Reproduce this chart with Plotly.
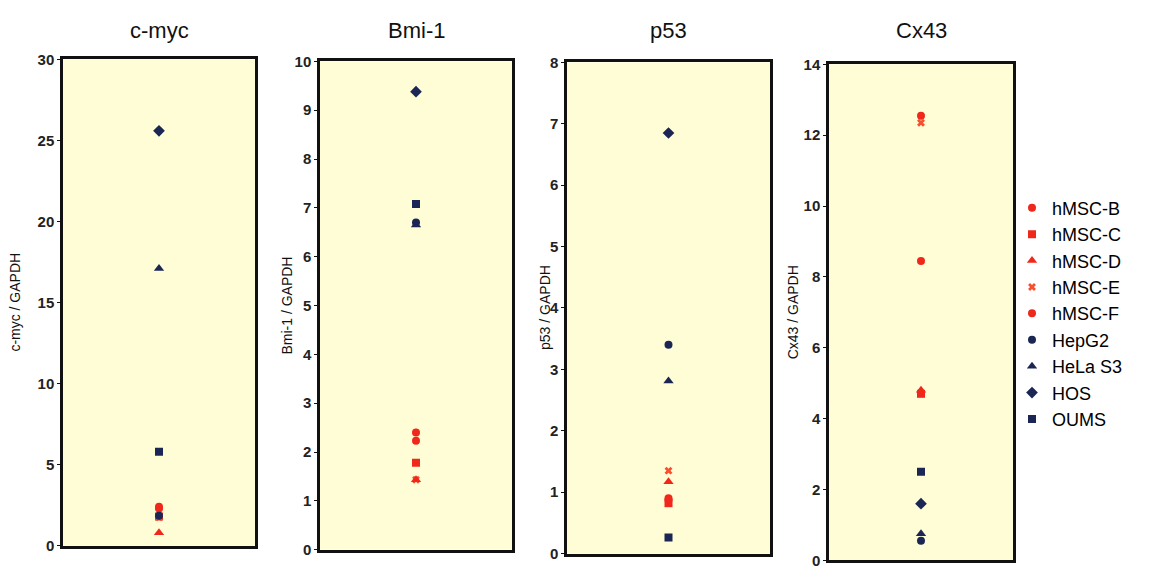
import plotly.graph_objects as go

# ---- data ----
genes = ["c-myc", "Bmi-1", "p53", "Cx43"]
y_titles = ["c-myc / GAPDH", "Bmi-1 / GAPDH", "p53 / GAPDH", "Cx43 / GAPDH"]
y_max = [30, 10, 8, 14]
y_ticks = [[0, 5, 10, 15, 20, 25, 30],
           [0, 1, 2, 3, 4, 5, 6, 7, 8, 9, 10],
           [0, 1, 2, 3, 4, 5, 6, 7, 8],
           [0, 2, 4, 6, 8, 10, 12, 14]]

series = ["hMSC-B", "hMSC-C", "hMSC-D", "hMSC-E", "hMSC-F", "HepG2", "HeLa S3", "HOS", "OUMS"]
cmyc = [2.4, 1.8, 0.8, 1.75, 2.3, 1.85, 17.1, 25.6, 5.8]
bmi1 = [2.4, 1.78, 1.43, 1.43, 2.23, 6.7, 6.65, 9.38, 7.08]
p53 = [0.9, 0.82, 1.17, 1.35, 0.87, 3.4, 2.81, 6.85, 0.26]
cx43 = [12.55, 4.7, 4.8, 12.35, 8.45, 0.55, 0.75, 1.6, 2.5]
values = [cmyc, bmi1, p53, cx43]

RED = "#f0281c"
ORANGE = "#f8502e"
NAVY = "#1b2655"
colors = [RED, RED, RED, ORANGE, RED, NAVY, NAVY, NAVY, NAVY]
symbols = ["circle", "square", "triangle-up", "x", "circle", "circle", "triangle-up", "diamond", "square"]
sizes = [8, 8, 9, 7, 8, 8, 9, 9, 8]
draw_order = [0, 1, 3, 2, 4, 5, 6, 7, 8]   # hMSC-D drawn over hMSC-E

# panel geometry (pixels in a 1150x579 canvas)
W, H = 1150, 579
boxes = [(63, 255, 52, 553), (320, 512, 54, 557), (567, 770, 55, 561), (829, 1013, 57, 568)]
ytitle_x = [15, 287, 545, 793]

fig = go.Figure()
for p in range(4):
    xa = "x" if p == 0 else f"x{p+1}"
    ya = "y" if p == 0 else f"y{p+1}"
    for i in draw_order:
        fig.add_trace(go.Scatter(
            x=[1], y=[values[p][i]], mode="markers", name=series[i],
            showlegend=(p == 0), legendrank=100 + i,
            marker=dict(color=colors[i], symbol=symbols[i], size=sizes[i],
                        line=dict(width=0)),
            xaxis=xa, yaxis=ya))

layout = dict(
    width=W, height=H, margin=dict(l=0, r=0, t=0, b=0),
    paper_bgcolor="white", plot_bgcolor="#fffdd6",
    font=dict(family="Liberation Sans, Arial, sans-serif", color="#1a1a1a"),
    legend=dict(x=1012 / W, y=1 - 186 / H, xanchor="left", yanchor="top",
                font=dict(size=18, color="#000"), itemwidth=30,
                tracegroupgap=0, bgcolor="rgba(0,0,0,0)"),
)
annotations = []
for p in range(4):
    x0, x1, yt, yb = boxes[p]
    sfx = "" if p == 0 else str(p + 1)
    layout["xaxis" + sfx] = dict(
        domain=[x0 / W, x1 / W], range=[0, 2], showticklabels=False,
        ticks="", showgrid=False, zeroline=False, showline=True, mirror=True,
        linecolor="#111", linewidth=2.5, anchor="y" + sfx, fixedrange=True)
    layout["yaxis" + sfx] = dict(
        domain=[1 - yb / H, 1 - yt / H], range=[0, y_max[p]],
        tickmode="array", tickvals=y_ticks[p],
        ticktext=[f"<b>{t}</b>" for t in y_ticks[p]],
        showgrid=False, zeroline=False, showline=True, mirror=True,
        linecolor="#111", linewidth=2.5, ticks="outside", ticklen=3,
        tickcolor="#111", tickfont=dict(size=15, color="#222"),
        anchor="x" + sfx, fixedrange=True)
    annotations.append(dict(
        text=genes[p], x=(x0 + x1) / 2 / W, y=1 - 22 / H, xref="paper", yref="paper",
        showarrow=False, font=dict(size=22, color="#111"), xanchor="center", yanchor="middle"))
    annotations.append(dict(
        text=y_titles[p], x=ytitle_x[p] / W, y=1 - ((yt + yb) / 2) / H,
        xref="paper", yref="paper", showarrow=False, textangle=-90,
        font=dict(size=14, color="#111"), xanchor="center", yanchor="middle"))
layout["annotations"] = annotations
fig.update_layout(**layout)

fig.write_html("out.html", config={"displayModeBar": False},
               post_script="document.body.style.margin='0';")
